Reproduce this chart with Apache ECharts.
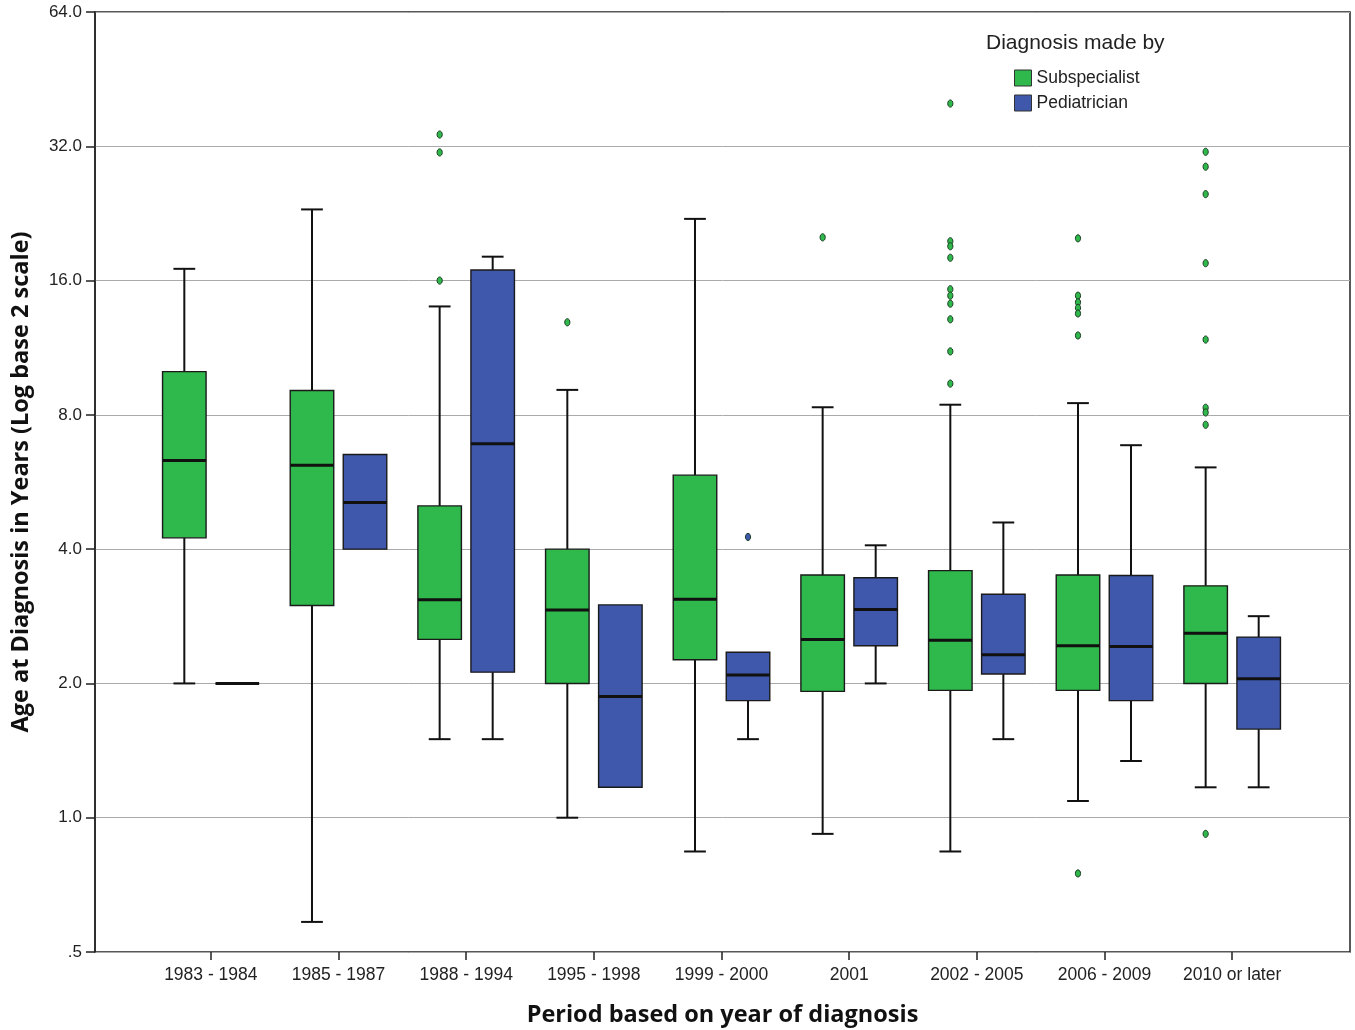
<!DOCTYPE html>
<html><head><meta charset="utf-8">
<script src="https://cdn.jsdelivr.net/npm/echarts@6/dist/echarts.min.js"></script>
<style>html,body{margin:0;background:#fff}#c{width:1355px;height:1030px}</style>
</head><body><div id="c"></div>
<script>
// ---- data ----
const categories = ['1983 - 1984','1985 - 1987','1988 - 1994','1995 - 1998','1999 - 2000','2001','2002 - 2005','2006 - 2009','2010 or later'];
const seriesNames = ['Subspecialist','Pediatrician'];
// [min, Q1, median, Q3, max] (years)
const subspecialistBoxes = [
  [2.0, 4.24, 6.32, 10.0, 17.0],
  [0.584, 2.99, 6.17, 9.07, 23.1],
  [1.5, 2.51, 3.08, 5.0, 14.0],
  [1.0, 2.0, 2.92, 4.0, 9.1],
  [0.84, 2.26, 3.09, 5.86, 22.0],
  [0.92, 1.92, 2.51, 3.5, 8.32],
  [0.84, 1.93, 2.50, 3.58, 8.43],
  [1.09, 1.93, 2.43, 3.5, 8.5],
  [1.17, 2.0, 2.59, 3.31, 6.1]
];
const pediatricianBoxes = [
  [2.0, 2.0, 2.0, 2.0, 2.0],
  [4.0, 4.0, 5.09, 6.52, 6.52],
  [1.5, 2.12, 6.89, 16.9, 18.1],
  [1.17, 1.17, 1.87, 3.0, 3.0],
  [1.5, 1.83, 2.09, 2.35, 2.35],
  [2.0, 2.43, 2.93, 3.45, 4.08],
  [1.5, 2.10, 2.32, 3.17, 4.59],
  [1.34, 1.83, 2.42, 3.49, 6.84],
  [1.17, 1.58, 2.05, 2.54, 2.83]
];
// [category index, value]
const subspecialistOutliers = [
  [2, 34.0], [2, 31.0], [2, 16.0],
  [3, 12.9],
  [5, 20.0],
  [6, 39.9], [6, 19.6], [6, 19.1], [6, 18.0], [6, 15.3], [6, 14.8], [6, 14.2], [6, 13.1], [6, 11.1], [6, 9.4],
  [7, 19.9], [7, 14.8], [7, 14.3], [7, 13.9], [7, 13.5], [7, 12.05], [7, 0.75],
  [8, 31.1], [8, 28.8], [8, 25.0], [8, 17.5], [8, 11.8], [8, 8.3], [8, 8.1], [8, 7.6], [8, 0.92]
];
const pediatricianOutliers = [
  [4, 4.26]
];
const yMin = 0.5, yMax = 64;

// ---- styles ----
const GREEN = '#2fb84b', BLUE = '#3f58ab';
const BOX_RATIO = 43.5 / 127.6, OFFSET_RATIO = 26.5 / 127.6;
const FONT = '"Liberation Sans", Arial, sans-serif';
const TITLE_FONT = '"Open Sans", "Liberation Sans", sans-serif';

function boxRender(sign, color) {
  return function (params, api) {
    const i = api.value(0);
    const band = api.size([1, 0])[0];
    const cx = api.coord([i, 1])[0] + sign * band * OFFSET_RATIO;
    const hw = band * BOX_RATIO / 2, cw = hw / 2;
    const y = k => api.coord([i, api.value(k)])[1];
    const ymin = y(1), yq1 = y(2), ymed = y(3), yq3 = y(4), ymax = y(5);
    const line = (x1, y1, x2, y2, w) => ({type: 'line', shape: {x1, y1, x2, y2}, style: {stroke: '#111', lineWidth: w}});
    const ch = [];
    if (ymax < yq3 - 0.5) { ch.push(line(cx, yq3, cx, ymax, 2), line(cx - cw, ymax, cx + cw, ymax, 2)); }
    if (ymin > yq1 + 0.5) { ch.push(line(cx, yq1, cx, ymin, 2), line(cx - cw, ymin, cx + cw, ymin, 2)); }
    ch.push({type: 'rect', shape: {x: cx - hw, y: yq3, width: 2 * hw, height: yq1 - yq3}, style: {fill: color, stroke: '#1a1a1a', lineWidth: 1.4}});
    ch.push(line(cx - hw, ymed, cx + hw, ymed, 3));
    return {type: 'group', children: ch};
  };
}
function outlierRender(sign, color) {
  return function (params, api) {
    const i = api.value(0);
    const band = api.size([1, 0])[0];
    const p = api.coord([i, api.value(1)]);
    return {type: 'ellipse', shape: {cx: p[0] + sign * band * OFFSET_RATIO, cy: p[1], rx: 2.6, ry: 3.6},
      style: {fill: color, stroke: '#1b3d22', lineWidth: 1}};
  };
}

const chart = echarts.init(document.getElementById('c'), null, {renderer: 'canvas'});
chart.setOption({
  animation: false,
  backgroundColor: '#fff',
  title: {text: 'Diagnosis made by', left: 986, top: 33, padding: 0,
    textStyle: {fontFamily: FONT, fontSize: 21, fontWeight: 'normal', color: '#222'}},
  legend: {data: seriesNames, orient: 'vertical', left: 1014, top: 69, padding: 0, itemWidth: 17, itemHeight: 16, itemGap: 7,
    icon: 'rect', itemStyle: {borderColor: '#333', borderWidth: 1},
    textStyle: {fontFamily: FONT, fontSize: 17.5, color: '#222'}},
  grid: [
    {left: 95, right: 5, top: 12, bottom: 78, show: true, borderColor: '#222', borderWidth: 1.5, outerBoundsMode: 'none', containLabel: false},
    {left: 147, right: 59, top: 12, bottom: 78, outerBoundsMode: 'none', containLabel: false}
  ],
  xAxis: [
    {type: 'value', gridIndex: 0, min: 0, max: 1, axisLine: {show: false}, axisTick: {show: false},
      axisLabel: {show: false}, splitLine: {show: false},
      name: 'Period based on year of diagnosis', nameLocation: 'middle', nameGap: 51,
      nameTextStyle: {fontFamily: TITLE_FONT, fontSize: 23.5, fontWeight: 'bold', color: '#111'}},
    {type: 'category', gridIndex: 1, data: categories, axisLine: {show: false},
      axisTick: {show: true, alignWithLabel: true, length: 8, lineStyle: {color: '#222', width: 1.5}},
      axisLabel: {interval: 0, fontFamily: FONT, fontSize: 17.5, color: '#222', margin: 14},
      splitLine: {show: false}}
  ],
  yAxis: [
    {type: 'log', logBase: 2, gridIndex: 0, min: yMin, max: yMax, splitNumber: 7,
      axisLine: {show: true, lineStyle: {color: '#222', width: 1.5}},
      axisTick: {show: true, length: 9, lineStyle: {color: '#222', width: 1.5}},
      axisLabel: {fontFamily: FONT, fontSize: 17, color: '#222', margin: 13,
        formatter: v => v < 1 ? String(v).replace(/^0/, '') : v.toFixed(1)},
      splitLine: {show: true, lineStyle: {color: '#aaa', width: 1}},
      name: 'Age at Diagnosis in Years (Log base 2 scale)', nameLocation: 'middle', nameGap: 62,
      nameTextStyle: {fontFamily: TITLE_FONT, fontSize: 23.5, fontWeight: 'bold', color: '#111'}},
    {type: 'log', logBase: 2, gridIndex: 1, min: yMin, max: yMax, splitNumber: 7, show: false}
  ],
  series: [
    {name: seriesNames[0], type: 'custom', xAxisIndex: 1, yAxisIndex: 1, itemStyle: {color: GREEN},
      renderItem: boxRender(-1, GREEN), encode: {x: 0, y: [1, 2, 3, 4, 5]},
      data: subspecialistBoxes.map((b, i) => [i].concat(b))},
    {name: seriesNames[1], type: 'custom', xAxisIndex: 1, yAxisIndex: 1, itemStyle: {color: BLUE},
      renderItem: boxRender(1, BLUE), encode: {x: 0, y: [1, 2, 3, 4, 5]},
      data: pediatricianBoxes.map((b, i) => [i].concat(b))},
    {name: 'Subspecialist outliers', type: 'custom', xAxisIndex: 1, yAxisIndex: 1, z: 5,
      renderItem: outlierRender(-1, GREEN), encode: {x: 0, y: 1}, data: subspecialistOutliers},
    {name: 'Pediatrician outliers', type: 'custom', xAxisIndex: 1, yAxisIndex: 1, z: 5,
      renderItem: outlierRender(1, BLUE), encode: {x: 0, y: 1}, data: pediatricianOutliers}
  ]
});
</script></body></html>
